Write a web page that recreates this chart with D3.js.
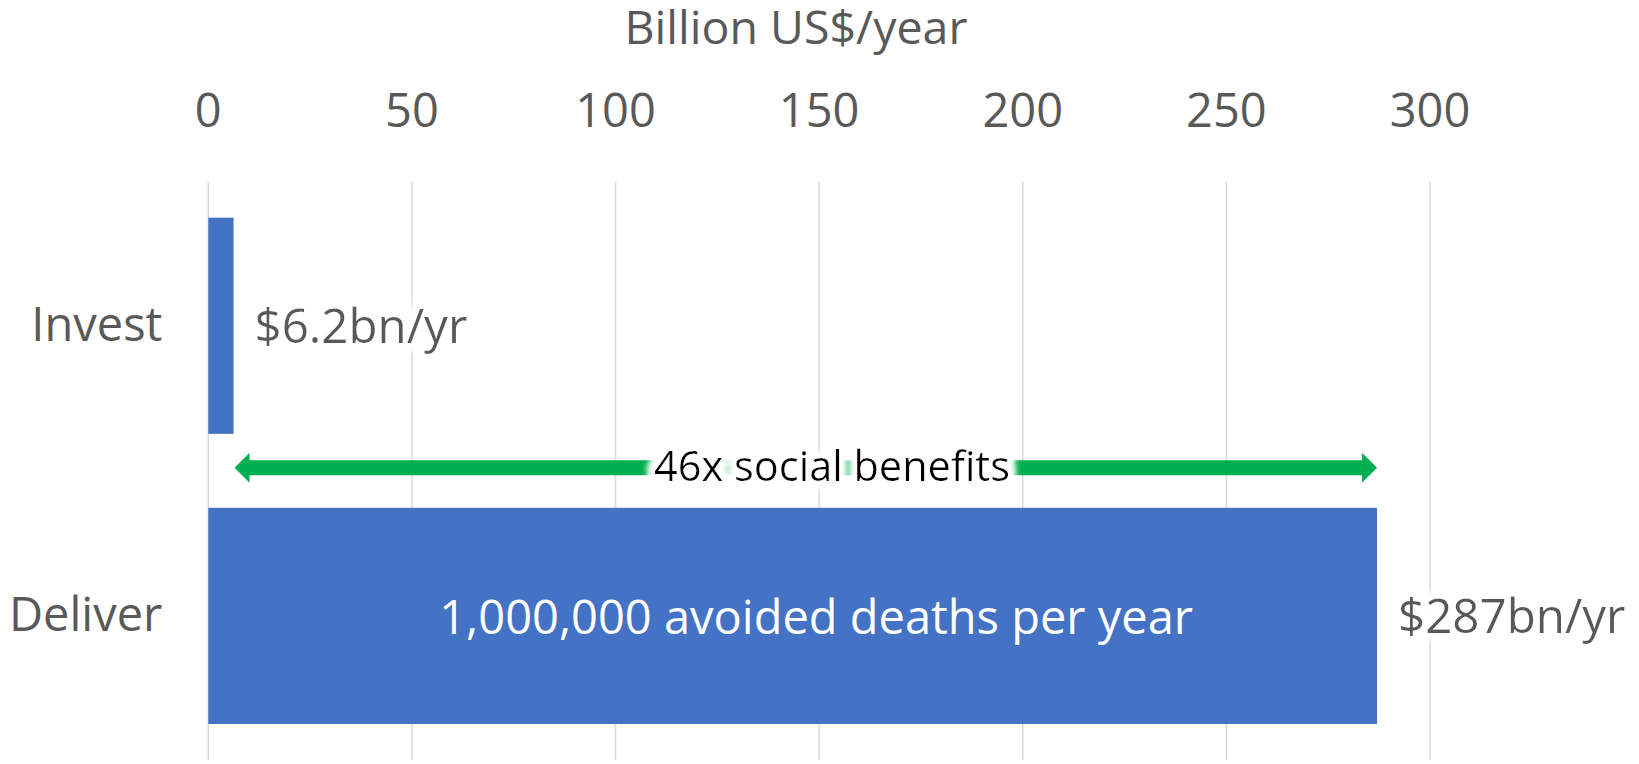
<!DOCTYPE html>
<html>
<head>
<meta charset="utf-8">
<script src="https://cdn.jsdelivr.net/npm/d3@7"></script>
<style>
  body { margin: 0; background: #fff; }
  svg { display: block; font-family: 'Open Sans', sans-serif; }
</style>
</head>
<body>
<svg id="chart" width="1639" height="764"></svg>
<script>
const categories = ['Invest', 'Deliver'];
const values = [6.2, 287];
const valueLabels = ['$6.2bn/yr', '$287bn/yr'];
const barNotes = ['', '1,000,000 avoided deaths per year'];
const ticks = [0, 50, 100, 150, 200, 250, 300];
const axisTitle = 'Billion US$/year';
const arrowLabel = '46x social benefits';

const margin = { top: 181.7, right: 209, bottom: 4, left: 208.3 };
const width = 1639, height = 764;

const svg = d3.select('#chart');

// white halo behind labels, like Excel's glow
const defs = svg.append('defs');
const glow = defs.append('filter').attr('id', 'glow')
  .attr('x', '-10%').attr('y', '-40%').attr('width', '120%').attr('height', '180%');
glow.append('feMorphology').attr('in', 'SourceAlpha').attr('operator', 'dilate').attr('radius', 6).attr('result', 'thick');
glow.append('feFlood').attr('flood-color', '#fff');
glow.append('feComposite').attr('in2', 'thick').attr('operator', 'in');
glow.append('feGaussianBlur').attr('stdDeviation', 3).attr('result', 'halo');
const merge = glow.append('feMerge');
merge.append('feMergeNode').attr('in', 'halo');
merge.append('feMergeNode').attr('in', 'halo');
merge.append('feMergeNode').attr('in', 'SourceGraphic');

const x = d3.scaleLinear()
  .domain([0, 300])
  .range([margin.left, width - margin.right]);

const y = d3.scaleBand()
  .domain(categories)
  .range([margin.top, height - margin.bottom])
  .paddingInner(0.255)
  .paddingOuter(0.124);

// gridlines
svg.append('g')
  .selectAll('line')
  .data(ticks)
  .join('line')
  .attr('x1', d => x(d)).attr('x2', d => x(d))
  .attr('y1', margin.top).attr('y2', height - margin.bottom)
  .attr('stroke', '#d9d9d9')
  .attr('stroke-width', 1.5);

// top axis labels
svg.append('g')
  .selectAll('text')
  .data(ticks)
  .join('text')
  .attr('x', d => x(d))
  .attr('y', 127)
  .attr('text-anchor', 'middle')
  .attr('font-size', 47)
  .attr('fill', '#595959')
  .text(d => d);

svg.append('text')
  .attr('x', 796)
  .attr('y', 44)
  .attr('text-anchor', 'middle')
  .attr('font-size', 46.5)
  .attr('fill', '#595959')
  .text(axisTitle);

// category labels
svg.append('g')
  .selectAll('text')
  .data(categories)
  .join('text')
  .attr('x', margin.left - 46)
  .attr('y', d => y(d) + y.bandwidth() / 2 + 15)
  .attr('text-anchor', 'end')
  .attr('font-size', 47)
  .attr('fill', '#595959')
  .text(d => d);

// bars
svg.append('g')
  .selectAll('rect')
  .data(values)
  .join('rect')
  .attr('x', x(0))
  .attr('y', (d, i) => y(categories[i]))
  .attr('width', d => x(d) - x(0))
  .attr('height', y.bandwidth())
  .attr('fill', '#4472c4');

// value labels
svg.append('g')
  .selectAll('text')
  .data(values)
  .join('text')
  .attr('x', d => x(d) + 21)
  .attr('y', (d, i) => y(categories[i]) + y.bandwidth() / 2 + 17)
  .attr('font-size', 47.5)
  .attr('fill', '#595959')
  .attr('filter', 'url(#glow)')
  .text((d, i) => valueLabels[i]);

// note inside the bar
svg.append('g')
  .selectAll('text')
  .data(barNotes)
  .join('text')
  .attr('x', (x(0) + x(300)) / 2 - 3)
  .attr('y', (d, i) => y(categories[i]) + y.bandwidth() / 2 + 18)
  .attr('text-anchor', 'middle')
  .attr('font-size', 47)
  .attr('fill', '#fff')
  .text(d => d);

// double-headed arrow between the two values
const ay = y('Deliver') - 40;
const x0 = x(values[0]) + 1, x1 = x(values[1]);
const head = 15, halfHead = 15, halfLine = 7.5;
const arrow = d3.path();
arrow.moveTo(x0, ay);
arrow.lineTo(x0 + head, ay - halfHead);
arrow.lineTo(x0 + head, ay - halfLine);
arrow.lineTo(x1 - head, ay - halfLine);
arrow.lineTo(x1 - head, ay - halfHead);
arrow.lineTo(x1, ay);
arrow.lineTo(x1 - head, ay + halfHead);
arrow.lineTo(x1 - head, ay + halfLine);
arrow.lineTo(x0 + head, ay + halfLine);
arrow.lineTo(x0 + head, ay + halfHead);
arrow.closePath();
svg.append('path').attr('d', arrow.toString()).attr('fill', '#00b050');

svg.append('text')
  .attr('x', 832)
  .attr('y', ay + 13)
  .attr('text-anchor', 'middle')
  .attr('font-size', 41.5)
  .attr('fill', '#000')
  .attr('filter', 'url(#glow)')
  .text(arrowLabel);
</script>
</body>
</html>
